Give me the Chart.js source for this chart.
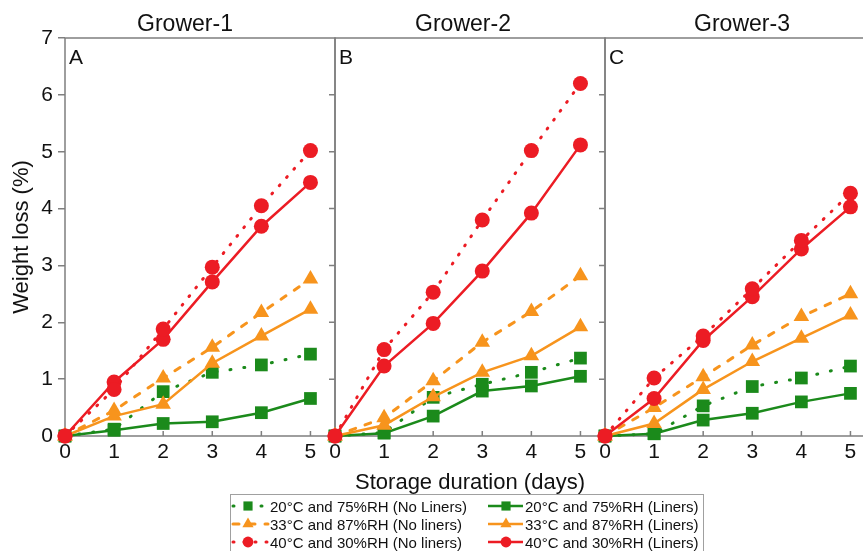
<!DOCTYPE html>
<html>
<head>
<meta charset="utf-8">
<script src="https://cdn.jsdelivr.net/npm/chart.js@4.4.1/dist/chart.umd.min.js"></script>
<style>
  body { margin: 0; background: #fff; }
  #wrap { position: relative; width: 863px; height: 551px; overflow: hidden;
          font-family: "Liberation Sans", Arial, sans-serif; color: #111; }
  #wrap canvas.panel { position: absolute; top: 0; }
  #xtitle { position: absolute; left: 0; width: 940px; top: 469px; text-align: center; font-size: 22px; }
  #legend { position: absolute; left: 230px; top: 494px; width: 472px; height: 80px; border: 1px solid #a0a0a0; }
  .item { position: absolute; display: flex; align-items: center; height: 18px; font-size: 15px; white-space: nowrap; }
  .item canvas { display: block; }
</style>
</head>
<body>
<div id="wrap">
  <canvas id="g1" class="panel" width="345" height="471" style="left:0px"></canvas>
  <canvas id="g2" class="panel" width="295" height="471" style="left:320px"></canvas>
  <canvas id="g3" class="panel" width="295" height="471" style="left:590px"></canvas>
  <div id="xtitle">Storage duration (days)</div>
  <div id="legend"></div>
</div>
<script>
// ---- data (weight loss %) ----
const days = [0, 1, 2, 3, 4, 5];
const yTicks = [0, 1, 2, 3, 4, 5, 6, 7];

const g1GreenNo   = [0, 0.12, 0.78, 1.12, 1.25, 1.44];
const g1GreenLin  = [0, 0.10, 0.22, 0.25, 0.41, 0.66];
const g1OrangeNo  = [0, 0.45, 1.02, 1.56, 2.17, 2.76];
const g1OrangeLin = [0, 0.35, 0.56, 1.28, 1.76, 2.23];
const g1RedNo     = [0, 0.82, 1.88, 2.97, 4.05, 5.02];
const g1RedLin    = [0, 0.95, 1.70, 2.71, 3.69, 4.46];

const g2GreenNo   = [0, 0.06, 0.68, 0.91, 1.12, 1.37];
const g2GreenLin  = [0, 0.05, 0.35, 0.79, 0.88, 1.05];
const g2OrangeNo  = [0, 0.32, 0.97, 1.65, 2.19, 2.82];
const g2OrangeLin = [0, 0.19, 0.69, 1.12, 1.41, 1.92];
const g2RedNo     = [0, 1.52, 2.53, 3.80, 5.02, 6.20];
const g2RedLin    = [0, 1.23, 1.98, 2.90, 3.92, 5.12];

const g3GreenNo   = [0, 0.04, 0.53, 0.87, 1.02, 1.23];
const g3GreenLin  = [0, 0.04, 0.28, 0.40, 0.60, 0.75];
const g3OrangeNo  = [0, 0.50, 1.04, 1.60, 2.10, 2.50];
const g3OrangeLin = [0, 0.22, 0.82, 1.31, 1.72, 2.13];
const g3RedNo     = [0, 1.02, 1.76, 2.59, 3.44, 4.27];
const g3RedLin    = [0, 0.66, 1.68, 2.45, 3.29, 4.03];

const seriesLabels = [
  "20°C and 75%RH (No Liners)", "20°C and 75%RH (Liners)",
  "33°C and 87%RH (No liners)", "33°C and 87%RH (Liners)",
  "40°C and 30%RH (No liners)", "40°C and 30%RH (Liners)"
];

const GREEN = "#1b8a1b", ORANGE = "#f7941d", RED = "#ec1c24";

// style per series, same order as seriesLabels
const styles = [
  { color: GREEN,  point: "rect",     r: 9,   dash: [1, 13], width: 3,   order: 4 },
  { color: GREEN,  point: "rect",     r: 9,   dash: [],      width: 2.5, order: 5 },
  { color: ORANGE, point: "triangle", r: 9,   dash: [6, 10], width: 3,   order: 2 },
  { color: ORANGE, point: "triangle", r: 9,   dash: [],      width: 2.5, order: 3 },
  { color: RED,    point: "circle",   r: 7.5, dash: [1, 10], width: 3,   order: 0 },
  { color: RED,    point: "circle",   r: 7.5, dash: [],      width: 2.5, order: 1 }
];

Chart.defaults.font.family = '"Liberation Sans", Arial, sans-serif';
Chart.defaults.color = "#111";

// frame, inward ticks, panel title and letter
const panelFrame = {
  id: "panelFrame",
  beforeDatasetsDraw(chart, args, o) {
    const { ctx, chartArea: a, scales: { x, y } } = chart;
    ctx.save();
    ctx.strokeStyle = "#7f7f7f";
    ctx.lineWidth = 1.5;
    ctx.beginPath();
    ctx.moveTo(a.left, a.bottom); ctx.lineTo(a.left, a.top); ctx.lineTo(a.right, a.top);
    if (o.right) ctx.lineTo(a.right, a.bottom);
    ctx.moveTo(a.left, a.bottom); ctx.lineTo(a.right, a.bottom);
    days.forEach(d => {
      const px = x.getPixelForValue(d);
      ctx.moveTo(px, a.bottom); ctx.lineTo(px, a.bottom - 5);
    });
    if (o.right) yTicks.forEach(v => {
      const py = y.getPixelForValue(v);
      ctx.moveTo(a.right, py); ctx.lineTo(a.right - 6, py);
    });
    ctx.stroke();

    ctx.fillStyle = "#111";
    ctx.textBaseline = "middle";
    ctx.textAlign = "center";
    ctx.font = '23px "Liberation Sans", Arial, sans-serif';
    ctx.fillText(o.title, o.titleX, 25);
    ctx.textAlign = "left";
    ctx.font = '21px "Liberation Sans", Arial, sans-serif';
    ctx.fillText(o.letter, a.left + 4, a.top + 20);
    ctx.restore();
  }
};

function makePanel(id, values, o) {
  const datasets = values.map((vals, i) => {
    const s = styles[i];
    return {
      label: seriesLabels[i],
      data: days.map((d, k) => ({ x: d, y: vals[k] })),
      borderColor: s.color,
      borderWidth: s.width,
      borderDash: s.dash,
      borderCapStyle: s.dash.length ? "round" : "butt",
      pointStyle: s.point,
      pointRadius: s.r,
      pointBackgroundColor: s.color,
      pointBorderWidth: 0,
      order: s.order,
      clip: false
    };
  });

  new Chart(document.getElementById(id), {
    type: "line",
    data: { datasets },
    options: {
      responsive: false,
      animation: false,
      layout: { padding: { left: o.padL, right: o.padR, top: 38, bottom: 0 } },
      plugins: {
        legend: { display: false },
        tooltip: { enabled: false },
        panelFrame: { title: o.title, letter: o.letter, titleX: o.titleX, right: o.right }
      },
      scales: {
        x: {
          type: "linear", min: 0, max: 5.5,
          afterBuildTicks: s => { s.ticks = days.map(d => ({ value: d })); },
          afterFit: s => { s.height = 35; },
          ticks: { font: { size: 21 }, color: "#111", padding: -4, maxRotation: 0, autoSkip: false },
          grid: { display: false },
          border: { display: false }
        },
        y: {
          min: 0, max: 7,
          display: o.showY,
          afterFit: s => { if (o.showY) s.width = 65; },
          ticks: { stepSize: 1, font: { size: 21 }, color: "#111", padding: 5 },
          grid: { drawOnChartArea: false, drawTicks: true, tickLength: 7, color: "#7f7f7f", lineWidth: 1.5 },
          border: { display: false },
          title: { display: true, text: "Weight loss (%)", font: { size: 22 }, color: "#111", padding: { top: 9, bottom: 0 } }
        }
      }
    },
    plugins: [panelFrame]
  });
}

makePanel("g1", [g1GreenNo, g1GreenLin, g1OrangeNo, g1OrangeLin, g1RedNo, g1RedLin],
  { padL: 0, padR: 10, showY: true, right: true, title: "Grower-1", letter: "A", titleX: 185 });
makePanel("g2", [g2GreenNo, g2GreenLin, g2OrangeNo, g2OrangeLin, g2RedNo, g2RedLin],
  { padL: 15, padR: 10, showY: false, right: true, title: "Grower-2", letter: "B", titleX: 143 });
makePanel("g3", [g3GreenNo, g3GreenLin, g3OrangeNo, g3OrangeLin, g3RedNo, g3RedLin],
  { padL: 15, padR: 10, showY: false, right: false, title: "Grower-3", letter: "C", titleX: 152 });

// ---- legend (two columns: no liners / liners) ----
function drawMarker(ctx, kind, x, y, r) {
  ctx.beginPath();
  if (kind === "rect") {
    const h = r * Math.SQRT1_2;
    ctx.rect(x - h, y - h, 2 * h, 2 * h);
  } else if (kind === "triangle") {
    for (let k = 0; k < 3; k++) {
      const ang = k * 2 * Math.PI / 3;
      const px = x + Math.sin(ang) * r, py = y - Math.cos(ang) * r;
      k ? ctx.lineTo(px, py) : ctx.moveTo(px, py);
    }
    ctx.closePath();
  } else {
    ctx.arc(x, y, r, 0, 2 * Math.PI);
  }
  ctx.fill();
}

const legend = document.getElementById("legend");
const rowTops = [2, 20, 38];
seriesLabels.forEach((label, i) => {
  const s = styles[i];
  const col = i % 2, row = Math.floor(i / 2);
  const item = document.createElement("div");
  item.className = "item";
  item.style.left = (col ? 257 : 0) + "px";
  item.style.top = rowTops[row] + "px";
  const cv = document.createElement("canvas");
  const w = col ? 37 : 39;
  cv.width = w; cv.height = 18;
  const ctx = cv.getContext("2d");
  ctx.strokeStyle = s.color; ctx.fillStyle = s.color;
  ctx.lineWidth = s.width;
  ctx.setLineDash(s.dash);
  ctx.lineCap = s.dash.length ? "round" : "butt";
  ctx.beginPath();
  ctx.moveTo(col ? 0 : 2, 9); ctx.lineTo(w - 2, 9);
  ctx.stroke();
  drawMarker(ctx, s.point, col ? 18 : 17, 9, s.r * 0.72);
  item.appendChild(cv);
  const span = document.createElement("span");
  span.textContent = label;
  item.appendChild(span);
  legend.appendChild(item);
});
</script>
</body>
</html>
